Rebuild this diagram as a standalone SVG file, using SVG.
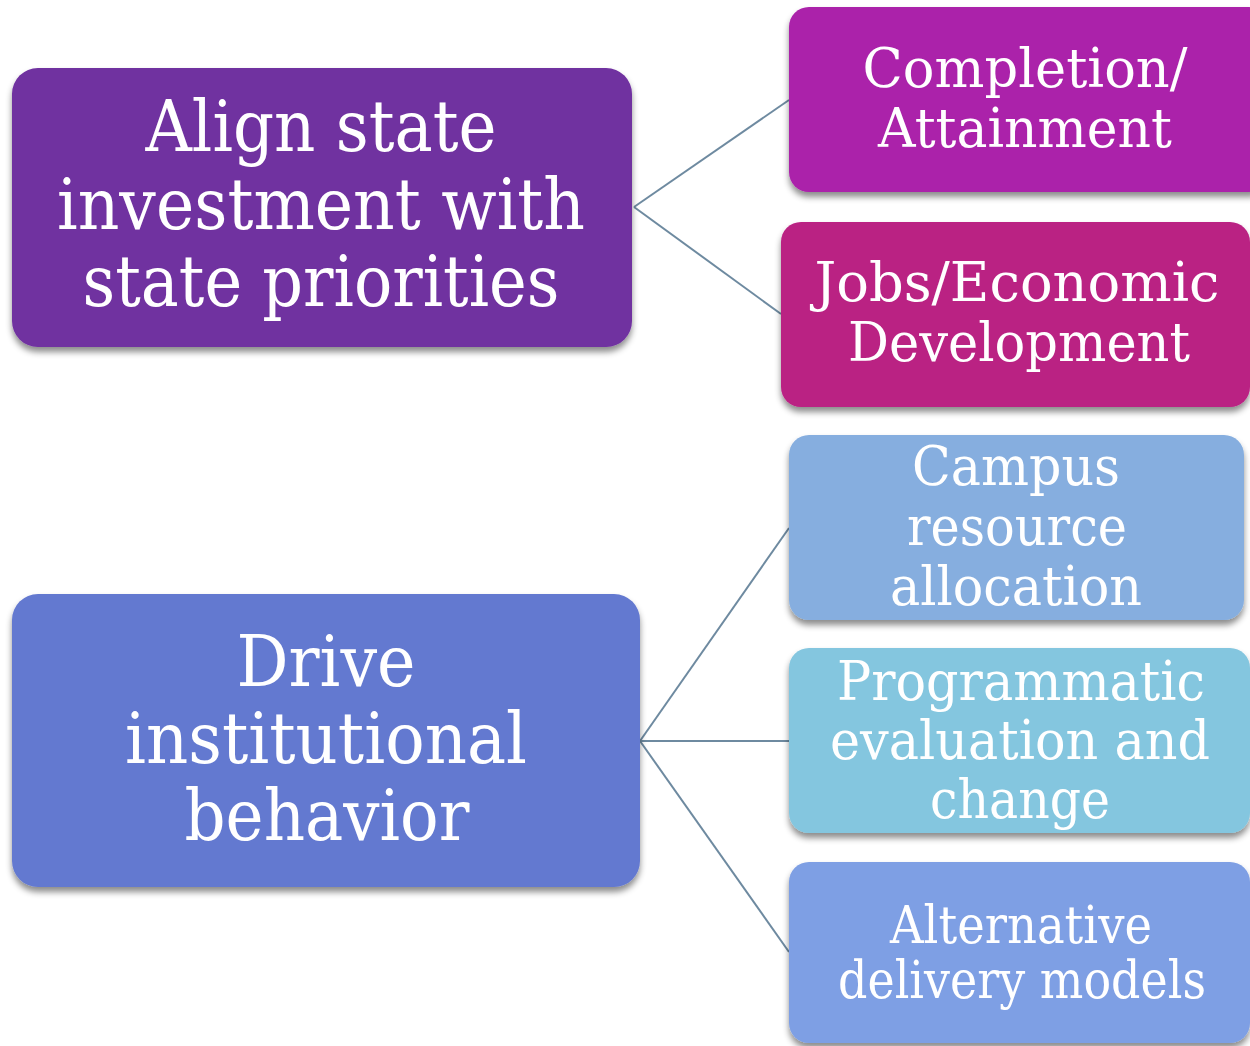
<svg xmlns="http://www.w3.org/2000/svg" width="1250" height="1046" viewBox="0 0 1250 1046">
<defs>
<filter id="sh" x="-10%" y="-10%" width="120%" height="130%">
<feDropShadow dx="0" dy="5" stdDeviation="3" flood-color="#000" flood-opacity="0.45"/>
</filter>
<style>
.box{filter:url(#sh);}
.t{font-family:"DejaVu Serif","Liberation Serif",serif;fill:#fff;text-anchor:middle;}
.big{font-size:71px;}
.sm{font-size:55px;}
.xs{font-size:52px;}
.con{stroke:#6E8AA0;stroke-width:2;fill:none;}
</style>
</defs>
<rect width="1250" height="1046" fill="#fff"/>
<g id="connectors">
<line class="con" x1="634" y1="207" x2="789" y2="100"/>
<line class="con" x1="634" y1="207" x2="781" y2="314"/>
<line class="con" x1="640" y1="741" x2="789" y2="528"/>
<line class="con" x1="640" y1="741" x2="789" y2="741"/>
<line class="con" x1="640" y1="741" x2="789" y2="952"/>
</g>
<g id="align">
<rect class="box" x="12" y="68" width="620" height="279" rx="26" fill="#7030A0"/>
<text class="t big" x="321" y="151" textLength="351" lengthAdjust="spacingAndGlyphs">Align state</text>
<text class="t big" x="321" y="229" textLength="528" lengthAdjust="spacingAndGlyphs">investment with</text>
<text class="t big" x="321" y="306" textLength="477" lengthAdjust="spacingAndGlyphs">state priorities</text>
</g>
<g id="drive">
<rect class="box" x="12" y="594" width="628" height="293" rx="26" fill="#6479D0"/>
<text class="t big" x="326" y="686" textLength="179" lengthAdjust="spacingAndGlyphs">Drive</text>
<text class="t big" x="326" y="763" textLength="402" lengthAdjust="spacingAndGlyphs">institutional</text>
<text class="t big" x="327" y="840" textLength="285" lengthAdjust="spacingAndGlyphs">behavior</text>
</g>
<g id="completion">
<rect class="box" x="789" y="7" width="480" height="185" rx="20" fill="#AB20AA"/>
<text class="t sm" x="1025" y="87" textLength="325" lengthAdjust="spacingAndGlyphs">Completion/</text>
<text class="t sm" x="1025" y="147" textLength="294" lengthAdjust="spacingAndGlyphs">Attainment</text>
</g>
<g id="jobs">
<rect class="box" x="781" y="222" width="469" height="185" rx="20" fill="#BA2183"/>
<text class="t sm" x="1017" y="301" textLength="405" lengthAdjust="spacingAndGlyphs">Jobs/Economic</text>
<text class="t sm" x="1019" y="361" textLength="342" lengthAdjust="spacingAndGlyphs">Development</text>
</g>
<g id="campus">
<rect class="box" x="789" y="435" width="455" height="185" rx="20" fill="#86AEDF"/>
<text class="t sm" x="1016" y="485" textLength="208" lengthAdjust="spacingAndGlyphs">Campus</text>
<text class="t sm" x="1017" y="545" textLength="220" lengthAdjust="spacingAndGlyphs">resource</text>
<text class="t sm" x="1016" y="605" textLength="252" lengthAdjust="spacingAndGlyphs">allocation</text>
</g>
<g id="programmatic">
<rect class="box" x="789" y="648" width="461" height="185" rx="20" fill="#84C6DF"/>
<text class="t sm" x="1021" y="700" textLength="368" lengthAdjust="spacingAndGlyphs">Programmatic</text>
<text class="t sm" x="1020" y="759" textLength="380" lengthAdjust="spacingAndGlyphs">evaluation and</text>
<text class="t sm" x="1020" y="818" textLength="180" lengthAdjust="spacingAndGlyphs">change</text>
</g>
<g id="alternative">
<rect class="box" x="789" y="862" width="461" height="181" rx="20" fill="#7E9FE4"/>
<text class="t xs" x="1021" y="943" textLength="262" lengthAdjust="spacingAndGlyphs">Alternative</text>
<text class="t xs" x="1022" y="998" textLength="368" lengthAdjust="spacingAndGlyphs">delivery models</text>
</g>
</svg>
